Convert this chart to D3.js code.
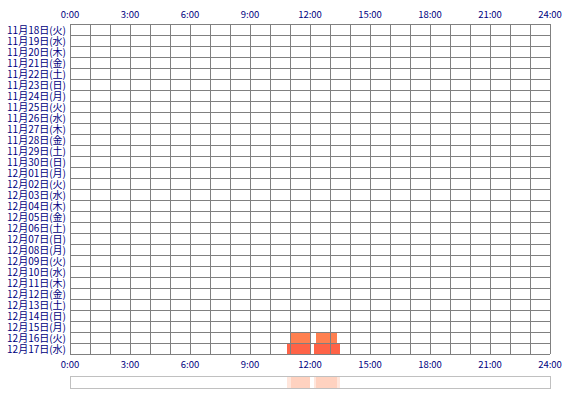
<!DOCTYPE html>
<html>
<head>
<meta charset="utf-8">
<script src="https://cdn.jsdelivr.net/npm/d3@7"></script>
<style>
  body { margin: 0; background: #fff; }
  text { font-family: "Noto Sans CJK JP", "DejaVu Sans", sans-serif; font-size: 9.5px; fill: #000080; }
  text.day { font-size: 10px; }
</style>
</head>
<body>
<script>
var margin = {top: 24, right: 20, bottom: 46, left: 70},
    width = 570 - margin.left - margin.right,
    height = 400 - margin.top - margin.bottom;

var days = ["11月18日(火)","11月19日(水)","11月20日(木)","11月21日(金)","11月22日(土)",
  "11月23日(日)","11月24日(月)","11月25日(火)","11月26日(水)","11月27日(木)",
  "11月28日(金)","11月29日(土)","11月30日(日)","12月01日(月)","12月02日(火)",
  "12月03日(水)","12月04日(木)","12月05日(金)","12月06日(土)","12月07日(日)",
  "12月08日(月)","12月09日(火)","12月10日(水)","12月11日(木)","12月12日(金)",
  "12月13日(土)","12月14日(日)","12月15日(月)","12月16日(火)","12月17日(水)"];

var tickHours = [0, 3, 6, 9, 12, 15, 18, 21, 24];

// sessions: day, start hour, end hour
var sessionDays  = ["12月16日(火)", "12月16日(火)", "12月17日(水)", "12月17日(水)"];
var sessionStart = [11.05, 12.3, 10.85, 12.2];
var sessionEnd   = [12.0, 13.35, 12.0, 13.5];
var sessionColor = ["#ff8050", "#ff8050", "#ff6347", "#ff6347"];

var sessions = sessionDays.map(function(d, i) {
  return {day: d, start: sessionStart[i], end: sessionEnd[i], color: sessionColor[i]};
});

var x = d3.scaleLinear().domain([0, 24]).range([0, 480]);
var y = d3.scaleBand().domain(days).range([0, 330]);

var svg = d3.select("body").append("svg")
    .attr("width", 570)
    .attr("height", 400)
  .append("g")
    .attr("transform", "translate(" + margin.left + "," + margin.top + ")");

// bars
svg.selectAll("rect.bar")
  .data(sessions)
  .enter().append("rect")
  .attr("class", "bar")
  .attr("x", function(d) { return x(d.start); })
  .attr("y", function(d) { return y(d.day); })
  .attr("width", function(d) { return x(d.end) - x(d.start); })
  .attr("height", y.bandwidth())
  .style("fill", function(d) { return d.color; });

// grid
var g = svg.append("g").attr("class", "grid");
g.selectAll("line.v")
  .data(d3.range(25))
  .enter().append("line")
  .attr("x1", function(d) { return Math.round(x(d)) + 0.5; })
  .attr("x2", function(d) { return Math.round(x(d)) + 0.5; })
  .attr("y1", 0)
  .attr("y2", 330)
  .style("stroke", "#808080");
g.selectAll("line.h")
  .data(d3.range(days.length + 1))
  .enter().append("line")
  .attr("x1", 0)
  .attr("x2", 480)
  .attr("y1", function(d) { return d * y.step() + 0.5; })
  .attr("y2", function(d) { return d * y.step() + 0.5; })
  .style("stroke", "#808080");

// day labels
svg.selectAll("text.day")
  .data(days)
  .enter().append("text")
  .attr("class", "day")
  .attr("x", -4)
  .attr("y", function(d) { return y(d) + y.bandwidth() / 2 + 4; })
  .attr("text-anchor", "end")
  .text(function(d) { return d; });

// hour labels top and bottom
[-6, 344].forEach(function(ty) {
  svg.append("g").selectAll("text")
    .data(tickHours)
    .enter().append("text")
    .attr("x", function(d) { return x(d); })
    .attr("y", ty)
    .attr("text-anchor", "middle")
    .text(function(d) { return d + ":00"; });
});

// navigator strip
var nav = svg.append("g").attr("transform", "translate(0,352)");
nav.selectAll("rect.nb")
  .data(sessions)
  .enter().append("rect")
  .attr("x", function(d) { return x(d.start); })
  .attr("y", 0)
  .attr("width", function(d) { return x(d.end) - x(d.start); })
  .attr("height", 12)
  .style("fill", "#ff8050")
  .style("opacity", 0.2);
nav.append("rect")
  .attr("x", 0.5)
  .attr("y", 0.5)
  .attr("width", 480)
  .attr("height", 12)
  .style("fill", "none")
  .style("stroke", "#c0c0c0");
</script>
</body>
</html>
